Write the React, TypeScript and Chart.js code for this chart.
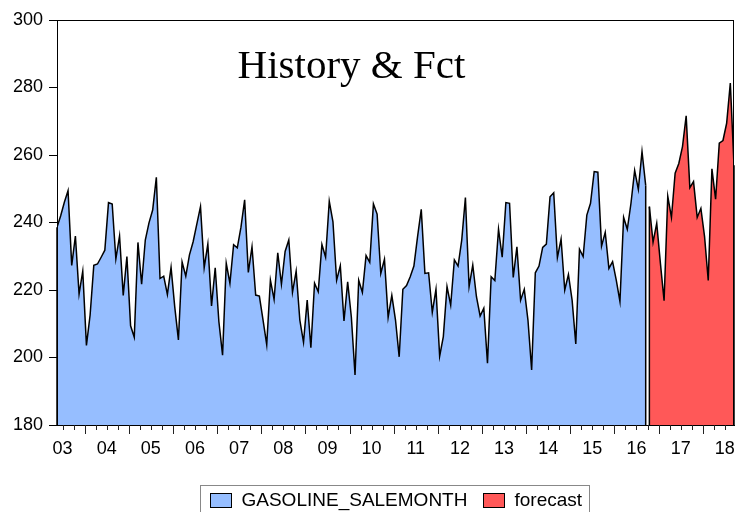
import { useEffect, useRef } from 'react';
import { Chart, registerables } from 'chart.js';

Chart.register(...registerables);

const START_YEAR = 2003;
const START_MONTH = 5;

const yearLabels = ['03', '04', '05', '06', '07', '08', '09', '10', '11', '12', '13', '14', '15', '16', '17', '18'];

const historyValues = [
  238.6, 242.0, 246.0, 249.4, 227.3, 236.0, 218.8, 225.6, 203.6, 212.6,
  227.3, 227.7, 229.7, 231.8, 245.9, 245.5, 229.2, 236.0, 218.4, 229.9,
  209.4, 206.0, 234.1, 221.7, 234.8, 239.9, 243.7, 253.4, 223.4, 224.1,
  218.7, 226.7, 215.0, 205.2, 228.3, 224.1, 230.4, 234.3, 239.5, 244.7,
  226.6, 233.6, 215.3, 226.6, 210.6, 200.7, 227.9, 222.0, 233.4, 232.5,
  238.6, 246.7, 225.2, 232.8, 218.5, 218.2, 211.1, 203.8, 222.9, 217.2,
  231.0, 221.7, 231.4, 234.8, 219.3, 225.6, 211.1, 204.5, 217.0, 202.9,
  222.0, 219.5, 233.5, 229.7, 246.3, 240.2, 222.9, 227.2, 210.8, 222.4,
  212.0, 194.8, 222.9, 219.3, 230.2, 228.2, 245.5, 242.5, 224.9, 229.1,
  211.9, 218.4, 211.1, 200.2, 220.2, 221.3, 223.9, 227.1, 235.8, 243.9,
  224.9, 225.1, 213.4, 220.2, 200.4, 206.2, 221.0, 215.5, 228.9, 227.1,
  234.8, 247.4, 221.0, 227.4, 218.0, 212.3, 214.6, 198.3, 223.9, 222.8,
  238.0, 229.7, 245.9, 245.7, 223.7, 232.8, 217.0, 220.2, 211.1, 196.3,
  225.1, 227.1, 232.6, 233.6, 247.6, 248.8, 229.6, 235.1, 220.0, 224.6,
  217.0, 204.0, 232.1, 229.9, 242.2, 245.7, 255.1, 254.9, 233.0, 237.1,
  226.4, 228.4, 222.9, 216.6, 241.5, 238.0, 245.7, 255.4, 249.8, 261.0,
  251.0,
];

const forecastValues = [
  244.7, 234.2, 239.8, 227.9, 216.8, 247.8, 241.5, 254.6, 257.5, 262.5,
  271.6, 250.3, 252.1, 241.5, 244.2, 235.8, 222.8, 255.9, 246.9, 263.5,
  264.3, 269.4, 281.3, 257.0,
];

const seriesNames = ['GASOLINE_SALEMONTH', 'forecast'];
const titleText = 'History & Fct';

const Y_MIN = 180;
const Y_MAX = 300;
const Y_STEP = 20;

const BLUE = 'rgb(150,190,255)';
const RED = 'rgb(255,88,88)';

const TOTAL = historyValues.length + forecastValues.length;

function monthIndex(year: number, month: number) {
  return (year - START_YEAR) * 12 + (month - START_MONTH);
}

function yearCenter(label: string) {
  const y = 2000 + parseInt(label, 10);
  return monthIndex(y, 1) - 0.5 + 6;
}

const framePlugin = {
  id: 'frameAndExtras',
  afterDatasetsDraw(chart: any) {
    const { ctx, chartArea } = chart;
    ctx.save();
    ctx.strokeStyle = '#000';
    ctx.lineWidth = 1.5;
    chart.data.datasets.forEach((_: any, di: number) => {
      const meta = chart.getDatasetMeta(di);
      const els = meta.data;
      if (!els.length) return;
      [els[0], els[els.length - 1]].forEach((el: any) => {
        ctx.beginPath();
        ctx.moveTo(el.x, el.y);
        ctx.lineTo(el.x, chartArea.bottom);
        ctx.stroke();
      });
    });
    ctx.restore();
  },
  afterDraw(chart: any) {
    const { ctx, chartArea } = chart;
    const xs = chart.scales.x;
    ctx.save();
    ctx.strokeStyle = '#000';
    ctx.lineWidth = 1;
    ctx.strokeRect(chartArea.left + 0.5, chartArea.top + 0.5, chartArea.right - chartArea.left - 1, chartArea.bottom - chartArea.top);
    ctx.strokeStyle = '#222';
    for (let y = START_YEAR; y <= START_YEAR + 16; y++) {
      for (const m of [1, 4, 7, 10]) {
        const b = monthIndex(y, m) - 0.5;
        if (b < 0 || b > TOTAL - 1) continue;
        const px = Math.round(xs.getPixelForValue(b)) + 0.5;
        const len = m === 1 ? 9 : 5;
        ctx.beginPath();
        ctx.moveTo(px, chartArea.bottom);
        ctx.lineTo(px, chartArea.bottom + len);
        ctx.stroke();
      }
    }
    ctx.fillStyle = '#000';
    ctx.font = "41px 'Liberation Serif', 'Times New Roman', serif";
    ctx.textAlign = 'center';
    ctx.textBaseline = 'alphabetic';
    ctx.fillText(titleText, 351.5, 78);
    ctx.strokeStyle = '#888';
    ctx.lineWidth = 1;
    ctx.strokeRect(200.5, 485.5, 389, 40);
    ctx.font = "19px 'Liberation Sans', Arial, sans-serif";
    ctx.textAlign = 'left';
    const items = [
      { x: 210, color: BLUE, label: seriesNames[0] },
      { x: 483, color: RED, label: seriesNames[1] },
    ];
    items.forEach((it) => {
      ctx.fillStyle = it.color;
      ctx.fillRect(it.x, 493, 21, 14);
      ctx.strokeStyle = '#000';
      ctx.strokeRect(it.x + 0.5, 493.5, 21, 14);
      ctx.fillStyle = '#000';
      ctx.fillText(it.label, it.x + 31.5, 506);
    });
    ctx.restore();
  },
};

export default function App() {
  const ref = useRef<HTMLCanvasElement | null>(null);

  useEffect(() => {
    if (!ref.current) return;
    const chart = new Chart(ref.current, {
      type: 'line',
      data: {
        datasets: [
          {
            label: seriesNames[0],
            data: historyValues.map((v, i) => ({ x: i, y: v })),
            borderColor: '#000',
            borderWidth: 1.5,
            backgroundColor: BLUE,
            fill: 'start',
            pointRadius: 0,
            tension: 0,
          },
          {
            label: seriesNames[1],
            data: forecastValues.map((v, i) => ({ x: historyValues.length + i, y: v })),
            borderColor: '#000',
            borderWidth: 1.5,
            backgroundColor: RED,
            fill: 'start',
            pointRadius: 0,
            tension: 0,
          },
        ],
      },
      options: {
        responsive: false,
        animation: false,
        layout: { padding: { left: 0, top: 20, right: 4, bottom: 47 } },
        plugins: {
          legend: { display: false },
          title: { display: false },
          tooltip: { enabled: false },
        },
        scales: {
          x: {
            type: 'linear',
            min: 0,
            max: TOTAL - 1,
            afterBuildTicks: (s: any) => {
              s.ticks = yearLabels.map((l) => ({ value: yearCenter(l) }));
            },
            afterFit: (s: any) => {
              s.height = 40;
              s.paddingLeft = 0;
              s.paddingRight = 0;
            },
            ticks: {
              autoSkip: false,
              maxRotation: 0,
              padding: 13,
              color: '#000',
              font: { family: "'Liberation Sans', Arial, sans-serif", size: 18 },
              callback: (v: any) => {
                const idx = yearLabels.findIndex((l) => Math.abs(yearCenter(l) - v) < 0.01);
                return idx >= 0 ? yearLabels[idx] : '';
              },
            },
            grid: { display: false, drawTicks: false },
            border: { display: true, color: '#000' },
          },
          y: {
            min: Y_MIN,
            max: Y_MAX,
            afterFit: (s: any) => {
              s.width = 57;
              s.paddingTop = 0;
              s.paddingBottom = 0;
            },
            ticks: {
              stepSize: Y_STEP,
              padding: 6,
              color: '#000',
              font: { family: "'Liberation Sans', Arial, sans-serif", size: 18 },
            },
            grid: { display: true, drawOnChartArea: false, drawTicks: true, tickLength: 8, color: '#000' },
            border: { display: true, color: '#000' },
          },
        },
      },
      plugins: [framePlugin],
    });
    return () => chart.destroy();
  }, []);

  return (
    <div style={{ position: 'fixed', left: 0, top: 0, width: 738, height: 512, background: '#fff' }}>
      <canvas ref={ref} width={738} height={512} style={{ display: 'block' }} />
    </div>
  );
}
